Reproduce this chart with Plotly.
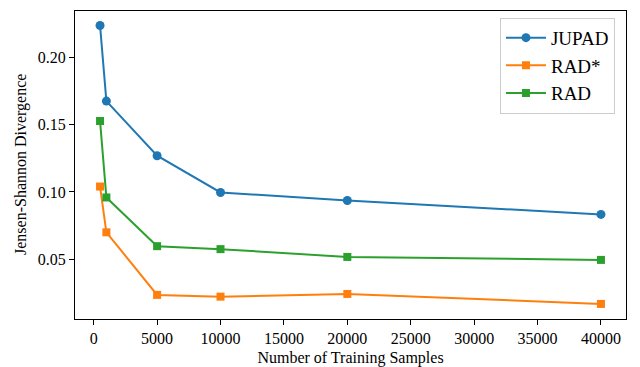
import plotly.graph_objects as go

samples = [500, 1000, 5000, 10000, 20000, 40000]
jupad = [0.2236, 0.1675, 0.1269, 0.0996, 0.0936, 0.0833]
rad_star = [0.1040, 0.0700, 0.0235, 0.0222, 0.0242, 0.0168]
rad = [0.1527, 0.0959, 0.0597, 0.0575, 0.0517, 0.0495]
x_ticks = list(range(0, 40001, 5000))
y_ticks = [0.05, 0.10, 0.15, 0.20]

fnt = "Liberation Serif, Times New Roman, serif"

fig = go.Figure()
fig.add_trace(go.Scatter(x=samples, y=jupad, name="JUPAD", mode="lines+markers",
                         line=dict(color="#1f77b4", width=2),
                         marker=dict(symbol="circle", size=9, color="#1f77b4")))
fig.add_trace(go.Scatter(x=samples, y=rad_star, name="RAD*", mode="lines+markers",
                         line=dict(color="#ff7f0e", width=2),
                         marker=dict(symbol="square", size=8, color="#ff7f0e")))
fig.add_trace(go.Scatter(x=samples, y=rad, name="RAD", mode="lines+markers",
                         line=dict(color="#2ca02c", width=2),
                         marker=dict(symbol="square", size=8, color="#2ca02c")))

axis_common = dict(showline=True, linecolor="black", linewidth=1.1, mirror=True,
                   ticks="outside", ticklen=5, tickwidth=1, tickcolor="black",
                   showgrid=False, zeroline=False, automargin=False,
                   tickfont=dict(family=fnt, size=16, color="black"))

fig.update_layout(
    width=640, height=367,
    margin=dict(l=75, r=14, t=11, b=48),
    paper_bgcolor="white", plot_bgcolor="white",
    font=dict(family=fnt, size=16, color="black"),
    xaxis=dict(range=[-1475, 41975], tickvals=x_ticks, tickformat="d",
               title=dict(text="Number of Training Samples", font=dict(family=fnt, size=16)),
               **axis_common),
    yaxis=dict(range=[0.0056, 0.2344], tickvals=y_ticks, tickformat=".2f",
               **axis_common),
    legend=dict(x=0.98, y=0.978, xanchor="right", yanchor="top",
                bordercolor="#cccccc", borderwidth=1, bgcolor="rgba(255,255,255,0.8)",
                font=dict(family=fnt, size=19), itemwidth=40, tracegroupgap=0),
    showlegend=True,
)

# y-axis title as an annotation so it can sit where the reference has it
fig.add_annotation(text="Jensen-Shannon Divergence", textangle=-90,
                   xref="paper", yref="paper", x=-0.098, y=0.5,
                   xanchor="center", yanchor="middle", showarrow=False,
                   font=dict(family=fnt, size=16, color="black"))

fig.write_html("out.html", config={"displayModeBar": False},
               post_script="document.body.style.margin='0';")
